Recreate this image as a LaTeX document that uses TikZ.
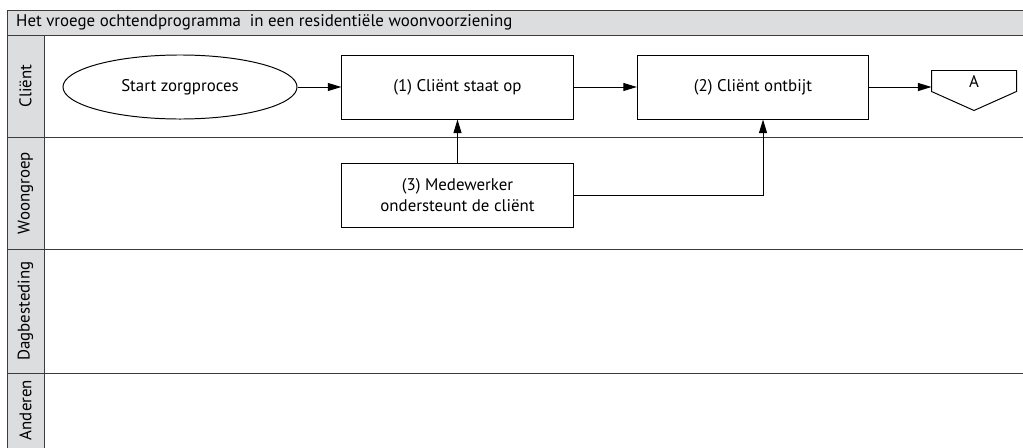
\documentclass[tikz,border=0pt]{standalone}
\usepackage{fontspec}
\setmainfont{PT Sans}
\usetikzlibrary{shapes.geometric,arrows.meta,calc}
\definecolor{lanegray}{HTML}{DCDDDE}
\definecolor{linegray}{HTML}{3C3C3C}

\begin{document}
\begin{tikzpicture}[x=0.025cm,y=-0.025cm,line width=0.7pt,
  >={Triangle[length=3.4mm,width=2mm]},
  font=\fontsize{12}{14.5}\selectfont,
  task/.style={rectangle,draw,minimum width=5.78cm,minimum height=1.6cm,align=center},
  lane/.style={rotate=90}]
\useasboundingbox (0,0) rectangle (1023,447);
% Pool met kop en baankolom
\fill[lanegray] (7,10) rectangle (1030,35);
\fill[lanegray] (7,35) rectangle (44,460);
\draw[linegray] (1030,10) -- (7,10) -- (7,460);
\draw[linegray] (7,35) -- (1030,35);
\draw[linegray] (44,35) -- (44,460);
\foreach \y in {137,249,373} \draw[linegray] (7,\y) -- (1030,\y);
\node[anchor=west] (titel) at (11,22.5) {Het vroege ochtendprogramma~ in een residentiële woonvoorziening};
\node[lane] (client) at (25.5,86) {Cliënt};
\node[lane] (woongroep) at (25.5,193) {Woongroep};
\node[lane] (dagbesteding) at (25.5,311) {Dagbesteding};
\node[lane] (anderen) at (25.5,410) {Anderen};

% Stappen
\node[ellipse,draw,minimum width=5.85cm,minimum height=1.6cm] (start) at (180,87) {Start zorgproces};
\node[task] (stap1) at (457.5,87) {(1) Cliënt staat op};
\node[task] (stap2) at (753,87) {(2) Cliënt ontbijt};
\node[task] (stap3) at (457.5,195) {(3) Medewerker\\ondersteunt de cliënt};
\node[inner sep=0,minimum width=2.1cm,minimum height=0.5cm] (offA) at (974,81) {A};
\draw (offA.north west) -- (offA.north east) -- (offA.south east)
  -- ($(offA.south)+(0,19)$) -- (offA.south west) -- cycle;

% Pijlen
\draw[->] (start) -- (stap1);
\draw[->] (stap1) -- (stap2);
\draw[->] (stap2.east) -- (stap2.east -| offA.west);
\draw[->] (stap3) -- (stap1);
\draw[->] (stap3.east) -| ([xshift=0.25cm]stap2.south);
\end{tikzpicture}
\end{document}
